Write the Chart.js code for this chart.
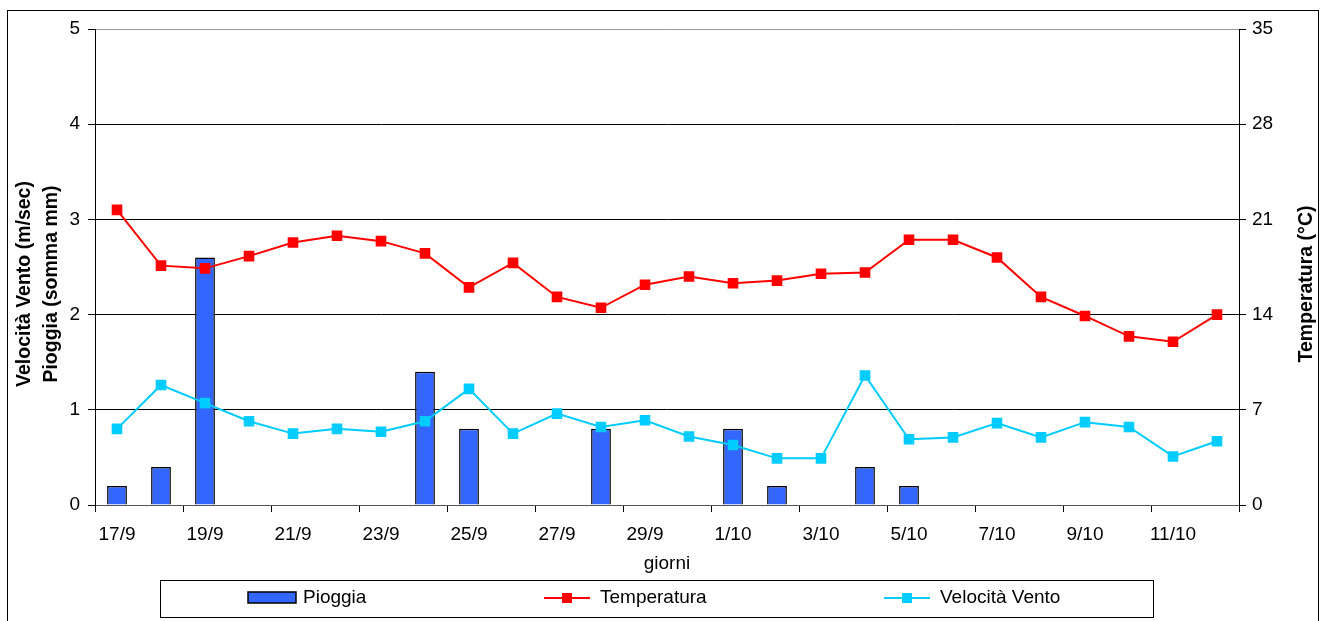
<!DOCTYPE html>
<html>
<head>
<meta charset="utf-8">
<script src="https://cdn.jsdelivr.net/npm/chart.js@4"></script>
<style>
html,body{margin:0;padding:0;background:#fff;}
#wrap{width:1326px;height:621px;}
</style>
</head>
<body>
<div id="wrap"><canvas id="c" width="1326" height="621"></canvas></div>
<script>
const days = ['17/9','18/9','19/9','20/9','21/9','22/9','23/9','24/9','25/9','26/9','27/9','28/9','29/9','30/9',
              '1/10','2/10','3/10','4/10','5/10','6/10','7/10','8/10','9/10','10/10','11/10','12/10'];
const pioggia = [0.2,0.4,2.6,0,0,0,0,1.4,0.8,0,0,0.8,0,0,0.8,0.2,0,0.4,0.2,0,0,0,0,0,0,0];
const temperatura = [21.7,17.6,17.4,18.3,19.3,19.8,19.4,18.5,16.0,17.8,15.3,14.5,16.2,16.8,16.3,16.5,17.0,17.1,19.5,19.5,18.2,15.3,13.9,12.4,12.0,14.0];
const vento = [0.80,1.26,1.07,0.88,0.75,0.80,0.77,0.88,1.22,0.75,0.96,0.82,0.89,0.72,0.63,0.49,0.49,1.36,0.69,0.71,0.86,0.71,0.87,0.82,0.51,0.67];
const seriesNames = ['Pioggia','Temperatura','Velocità Vento'];
const leftTitle = ['Velocità Vento (m/sec)','Pioggia (somma mm)'];
const rightTitle = 'Temperatura (°C)';
const xTitle = 'giorni';

const FONT = 'Liberation Sans, Arial, sans-serif';
const BLUE = '#3366FF', RED = '#FF0000', CYAN = '#00CCFF';

const framePlugin = {
  id: 'frame',
  afterDraw(chart) {
    const ctx = chart.ctx;
    ctx.save();
    // outer border
    ctx.strokeStyle = '#000';
    ctx.lineWidth = 1;
    ctx.strokeRect(7.5, 10.5, 1311, 620);

    // axis titles (rotated, reading bottom to top)
    ctx.fillStyle = '#000';
    ctx.textAlign = 'center';
    ctx.textBaseline = 'middle';
    ctx.font = 'bold 19.5px ' + FONT;
    const tcy = 284;
    [[leftTitle[0], 25], [leftTitle[1], 52], [rightTitle, 1307]].forEach(([t, x]) => {
      ctx.save();
      ctx.translate(x, tcy);
      ctx.rotate(-Math.PI / 2);
      ctx.fillText(t, 0, 0);
      ctx.restore();
    });

    // legend box
    ctx.textAlign = 'left';
    const lx = 160.5, ly = 580.5, lw = 993, lh = 37;
    ctx.strokeStyle = '#000';
    ctx.lineWidth = 1;
    ctx.strokeRect(lx, ly, lw, lh);
    ctx.font = '19px ' + FONT;
    const cy = 598;
    const ds = chart.data.datasets;
    ctx.fillStyle = ds[0].backgroundColor;
    ctx.fillRect(248, cy - 6, 48, 11);
    ctx.lineWidth = 1.5;
    ctx.strokeStyle = '#000';
    ctx.strokeRect(248, cy - 6, 48, 11);
    ctx.fillStyle = '#000';
    ctx.fillText(ds[0].label, 303, cy);
    const items = [[ds[1], 544, 600], [ds[2], 884, 940]];
    items.forEach(([d, x0, tx]) => {
      ctx.strokeStyle = d.borderColor;
      ctx.lineWidth = 2;
      ctx.beginPath();
      ctx.moveTo(x0, cy); ctx.lineTo(x0 + 46, cy); ctx.stroke();
      ctx.fillStyle = d.backgroundColor;
      ctx.fillRect(x0 + 23 - 5, cy - 5, 10, 10);
      ctx.fillStyle = '#000';
      ctx.fillText(d.label, tx, cy);
    });
    ctx.restore();
  }
};

new Chart(document.getElementById('c'), {
  data: {
    labels: days,
    datasets: [
      { type: 'bar', label: seriesNames[0], data: pioggia, yAxisID: 'y', order: 3,
        backgroundColor: BLUE, borderColor: '#000', borderWidth: 1.5,
        barPercentage: 0.45, categoryPercentage: 1 },
      { type: 'line', label: seriesNames[1], data: temperatura, yAxisID: 'y2', order: 1,
        borderColor: RED, backgroundColor: RED, borderWidth: 2,
        pointStyle: 'rect', pointRadius: 7.5, pointBorderWidth: 0, tension: 0 },
      { type: 'line', label: seriesNames[2], data: vento, yAxisID: 'y', order: 2,
        borderColor: CYAN, backgroundColor: CYAN, borderWidth: 2,
        pointStyle: 'rect', pointRadius: 7.5, pointBorderWidth: 0, tension: 0 }
    ]
  },
  options: {
    responsive: false,
    animation: false,
    devicePixelRatio: 1,
    layout: { padding: { left: 8, right: 8, top: 29, bottom: 45 } },
    plugins: { legend: { display: false }, tooltip: { enabled: false } },
    scales: {
      x: {
        type: 'category',
        offset: true,
        grid: {
          offset: true, drawOnChartArea: false, drawTicks: true, tickLength: 7,
          tickColor: (c) => (c.index === undefined || c.index % 2 === 0) ? '#000' : 'rgba(0,0,0,0)'
        },
        border: { color: '#555', width: 1 },
        ticks: {
          autoSkip: false, maxRotation: 0, padding: 11, color: '#000',
          font: { family: FONT, size: 19 },
          callback: function(v, i) { return i % 2 === 0 ? this.getLabelForValue(v) : ''; }
        },
        title: { display: true, text: xTitle, color: '#000', font: { family: FONT, size: 19 }, padding: { top: 0, bottom: 1 } },
        afterFit: (s) => { s.height = 71; }
      },
      y: {
        position: 'left', min: 0, max: 5,
        grid: {
          color: (c) => c.tick && c.tick.value === 5 ? '#999' : '#000',
          tickLength: 7, tickColor: '#000'
        },
        border: { color: '#000', width: 1 },
        ticks: { stepSize: 1, padding: 8, color: '#000', font: { family: FONT, size: 19 } },
        afterFit: (s) => { s.width = 87; }
      },
      y2: {
        position: 'right', min: 0, max: 35,
        grid: { drawOnChartArea: false, tickLength: 7, tickColor: '#000' },
        border: { color: '#000', width: 1 },
        ticks: { stepSize: 7, padding: 6, color: '#000', font: { family: FONT, size: 19 } },
        afterFit: (s) => { s.width = 79; }
      }
    }
  },
  plugins: [framePlugin]
});
</script>
</body>
</html>
